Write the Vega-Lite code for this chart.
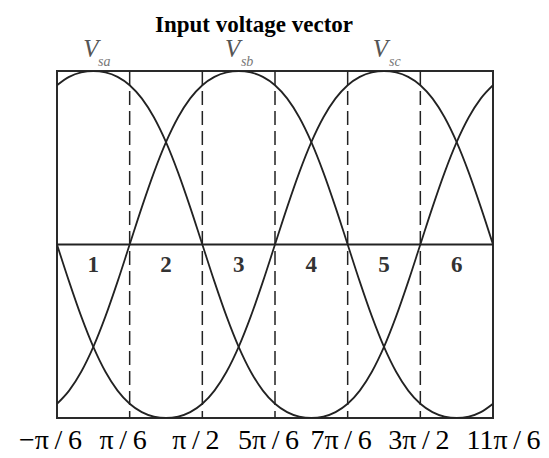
{
  "$schema": "https://vega.github.io/schema/vega-lite/v6.json",
  "width": 436,
  "height": 347,
  "autosize": {"type": "none"},
  "padding": {"left": 57, "top": 71, "right": 56, "bottom": 40},
  "background": "white",
  "title": {
    "text": "Input voltage vector",
    "font": "Liberation Serif",
    "fontSize": 23,
    "fontWeight": "bold",
    "color": "#000000",
    "anchor": "middle",
    "dx": -21,
    "dy": 4
  },
  "config": {
    "view": {"stroke": "#2a2a2a", "strokeWidth": 2},
    "axisY": {"disable": true},
    "axisX": {
      "grid": false,
      "ticks": false,
      "tickSize": 0,
      "domain": false,
      "labelFont": "Liberation Serif",
      "labelFontSize": 28,
      "labelColor": "#000000",
      "labelPadding": 8,
      "labelFlush": false,
      "labelOverlap": false,
      "labelBound": false
    }
  },
  "datasets": {
    "curves": [
      {"s": "a", "t": -30, "v": 0.918}, {"s": "a", "t": -20, "v": 0.9661}, {"s": "a", "t": -10, "v": 0.9919}, {"s": "a", "t": 0, "v": 1},
      {"s": "a", "t": 10, "v": 0.9919}, {"s": "a", "t": 20, "v": 0.9661}, {"s": "a", "t": 30, "v": 0.918}, {"s": "a", "t": 40, "v": 0.842},
      {"s": "a", "t": 50, "v": 0.7333}, {"s": "a", "t": 60, "v": 0.59}, {"s": "a", "t": 70, "v": 0.4145}, {"s": "a", "t": 80, "v": 0.2141},
      {"s": "a", "t": 90, "v": 0}, {"s": "a", "t": 100, "v": -0.2141}, {"s": "a", "t": 110, "v": -0.4145}, {"s": "a", "t": 120, "v": -0.59},
      {"s": "a", "t": 130, "v": -0.7333}, {"s": "a", "t": 140, "v": -0.842}, {"s": "a", "t": 150, "v": -0.918}, {"s": "a", "t": 160, "v": -0.9661},
      {"s": "a", "t": 170, "v": -0.9919}, {"s": "a", "t": 180, "v": -1}, {"s": "a", "t": 190, "v": -0.9919}, {"s": "a", "t": 200, "v": -0.9661},
      {"s": "a", "t": 210, "v": -0.918}, {"s": "a", "t": 220, "v": -0.842}, {"s": "a", "t": 230, "v": -0.7333}, {"s": "a", "t": 240, "v": -0.59},
      {"s": "a", "t": 250, "v": -0.4145}, {"s": "a", "t": 260, "v": -0.2141}, {"s": "a", "t": 270, "v": 0}, {"s": "a", "t": 280, "v": 0.2141},
      {"s": "a", "t": 290, "v": 0.4145}, {"s": "a", "t": 300, "v": 0.59}, {"s": "a", "t": 310, "v": 0.7333}, {"s": "a", "t": 320, "v": 0.842},
      {"s": "a", "t": 330, "v": 0.918},
      {"s": "b", "t": -30, "v": -0.918}, {"s": "b", "t": -20, "v": -0.842}, {"s": "b", "t": -10, "v": -0.7333}, {"s": "b", "t": 0, "v": -0.59},
      {"s": "b", "t": 10, "v": -0.4145}, {"s": "b", "t": 20, "v": -0.2141}, {"s": "b", "t": 30, "v": 0}, {"s": "b", "t": 40, "v": 0.2141},
      {"s": "b", "t": 50, "v": 0.4145}, {"s": "b", "t": 60, "v": 0.59}, {"s": "b", "t": 70, "v": 0.7333}, {"s": "b", "t": 80, "v": 0.842},
      {"s": "b", "t": 90, "v": 0.918}, {"s": "b", "t": 100, "v": 0.9661}, {"s": "b", "t": 110, "v": 0.9919}, {"s": "b", "t": 120, "v": 1},
      {"s": "b", "t": 130, "v": 0.9919}, {"s": "b", "t": 140, "v": 0.9661}, {"s": "b", "t": 150, "v": 0.918}, {"s": "b", "t": 160, "v": 0.842},
      {"s": "b", "t": 170, "v": 0.7333}, {"s": "b", "t": 180, "v": 0.59}, {"s": "b", "t": 190, "v": 0.4145}, {"s": "b", "t": 200, "v": 0.2141},
      {"s": "b", "t": 210, "v": 0}, {"s": "b", "t": 220, "v": -0.2141}, {"s": "b", "t": 230, "v": -0.4145}, {"s": "b", "t": 240, "v": -0.59},
      {"s": "b", "t": 250, "v": -0.7333}, {"s": "b", "t": 260, "v": -0.842}, {"s": "b", "t": 270, "v": -0.918}, {"s": "b", "t": 280, "v": -0.9661},
      {"s": "b", "t": 290, "v": -0.9919}, {"s": "b", "t": 300, "v": -1}, {"s": "b", "t": 310, "v": -0.9919}, {"s": "b", "t": 320, "v": -0.9661},
      {"s": "b", "t": 330, "v": -0.918},
      {"s": "c", "t": -30, "v": 0}, {"s": "c", "t": -20, "v": -0.2141}, {"s": "c", "t": -10, "v": -0.4145}, {"s": "c", "t": 0, "v": -0.59},
      {"s": "c", "t": 10, "v": -0.7333}, {"s": "c", "t": 20, "v": -0.842}, {"s": "c", "t": 30, "v": -0.918}, {"s": "c", "t": 40, "v": -0.9661},
      {"s": "c", "t": 50, "v": -0.9919}, {"s": "c", "t": 60, "v": -1}, {"s": "c", "t": 70, "v": -0.9919}, {"s": "c", "t": 80, "v": -0.9661},
      {"s": "c", "t": 90, "v": -0.918}, {"s": "c", "t": 100, "v": -0.842}, {"s": "c", "t": 110, "v": -0.7333}, {"s": "c", "t": 120, "v": -0.59},
      {"s": "c", "t": 130, "v": -0.4145}, {"s": "c", "t": 140, "v": -0.2141}, {"s": "c", "t": 150, "v": 0}, {"s": "c", "t": 160, "v": 0.2141},
      {"s": "c", "t": 170, "v": 0.4145}, {"s": "c", "t": 180, "v": 0.59}, {"s": "c", "t": 190, "v": 0.7333}, {"s": "c", "t": 200, "v": 0.842},
      {"s": "c", "t": 210, "v": 0.918}, {"s": "c", "t": 220, "v": 0.9661}, {"s": "c", "t": 230, "v": 0.9919}, {"s": "c", "t": 240, "v": 1},
      {"s": "c", "t": 250, "v": 0.9919}, {"s": "c", "t": 260, "v": 0.9661}, {"s": "c", "t": 270, "v": 0.918}, {"s": "c", "t": 280, "v": 0.842},
      {"s": "c", "t": 290, "v": 0.7333}, {"s": "c", "t": 300, "v": 0.59}, {"s": "c", "t": 310, "v": 0.4145}, {"s": "c", "t": 320, "v": 0.2141},
      {"s": "c", "t": 330, "v": 0}
    ],
    "bounds": [{"t": 30}, {"t": 90}, {"t": 150}, {"t": 210}, {"t": 270}],
    "zero": [{"v": 0}],
    "sectors": [
      {"t": 0, "v": -0.12, "n": "1"}, {"t": 60, "v": -0.12, "n": "2"}, {"t": 120, "v": -0.12, "n": "3"},
      {"t": 180, "v": -0.12, "n": "4"}, {"t": 240, "v": -0.12, "n": "5"}, {"t": 300, "v": -0.12, "n": "6"}
    ],
    "names": [
      {"t": -2, "v": 1.08, "main": "V", "st": 9, "sv": 1.03, "sub": "sa"},
      {"t": 115, "v": 1.08, "main": "V", "st": 127, "sv": 1.03, "sub": "sb"},
      {"t": 237, "v": 1.08, "main": "V", "st": 249, "sv": 1.03, "sub": "sc"}
    ]
  },
  "layer": [
    {
      "data": {"name": "zero"},
      "mark": {"type": "rule", "stroke": "#222222", "strokeWidth": 2},
      "encoding": {
        "y": {"field": "v", "type": "quantitative", "scale": {"domain": [-1, 1], "nice": false, "zero": false}}
      }
    },
    {
      "data": {"name": "bounds"},
      "mark": {"type": "rule", "stroke": "#222222", "strokeWidth": 1.5, "strokeDash": [14, 6]},
      "encoding": {
        "x": {"field": "t", "type": "quantitative", "title": null}
      }
    },
    {
      "data": {"name": "curves"},
      "mark": {"type": "line", "interpolate": "monotone", "stroke": "#222222", "strokeWidth": 1.8, "clip": true},
      "encoding": {
        "x": {
          "field": "t",
          "type": "quantitative",
          "title": null,
          "scale": {"domain": [-30, 330], "nice": false, "zero": false},
          "axis": {
            "values": [-30, 30, 90, 150, 210, 270, 330],
            "labelOffset": {"condition": [{"test": "datum.value == 330", "value": 10}, {"test": "datum.value == 270", "value": -2}], "value": -7},
            "labelExpr": "datum.value == -30 ? '−π\u2009/\u20096' : datum.value == 30 ? 'π\u2009/\u20096' : datum.value == 90 ? 'π\u2009/\u20092' : datum.value == 150 ? '5π\u2009/\u20096' : datum.value == 210 ? '7π\u2009/\u20096' : datum.value == 270 ? '3π\u2009/\u20092' : '11π\u2009/\u20096'"
          }
        },
        "y": {"field": "v", "type": "quantitative", "title": null},
        "detail": {"field": "s", "type": "nominal"}
      }
    },
    {
      "data": {"name": "sectors"},
      "mark": {"type": "text", "font": "Liberation Serif", "fontSize": 23, "fontWeight": "bold", "fill": "#333333", "baseline": "middle", "align": "center"},
      "encoding": {
        "x": {"field": "t", "type": "quantitative", "title": null},
        "y": {"field": "v", "type": "quantitative", "title": null},
        "text": {"field": "n"}
      }
    },
    {
      "data": {"name": "names"},
      "mark": {"type": "text", "font": "Liberation Serif", "fontSize": 25, "fontStyle": "italic", "fill": "#555555", "baseline": "alphabetic", "align": "center"},
      "encoding": {
        "x": {"field": "t", "type": "quantitative", "title": null},
        "y": {"field": "v", "type": "quantitative", "title": null},
        "text": {"field": "main"}
      }
    },
    {
      "data": {"name": "names"},
      "mark": {"type": "text", "font": "Liberation Serif", "fontSize": 14, "fontStyle": "italic", "fill": "#777777", "baseline": "alphabetic", "align": "center"},
      "encoding": {
        "x": {"field": "st", "type": "quantitative", "title": null},
        "y": {"field": "sv", "type": "quantitative", "title": null},
        "text": {"field": "sub"}
      }
    }
  ]
}
